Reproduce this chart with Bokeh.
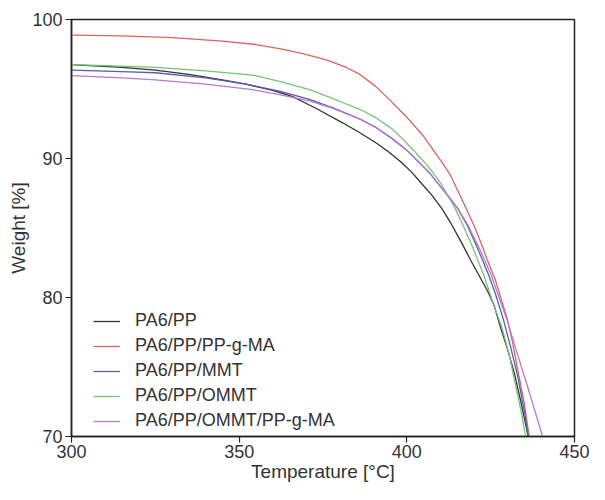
from bokeh.plotting import figure
from bokeh.models import Range1d, FixedTicker, Legend, LegendItem
from bokeh.embed import file_html
from bokeh.resources import INLINE

# Temperature [°C] / Weight [%]
t_pa6pp = [300, 315, 325, 335, 345, 352, 360, 366, 373, 381, 386, 391, 395, 398.5, 401.5, 404.4,
           407.5, 410.3, 413, 416.2, 419, 421.5, 424, 426, 428, 430, 432, 434, 436.2]
w_pa6pp = [96.76, 96.55, 96.36, 96.05, 95.65, 95.35, 94.9, 94.45, 93.6, 92.55, 91.85, 91.1, 90.4, 89.7, 89.0, 88.2,
           87.35, 86.45, 85.4, 84.0, 82.7, 81.6, 80.5, 79.46, 77.8, 76.3, 74.6, 72.5, 70.0]

t_ppgma = [300, 315, 330, 345, 355, 362, 369, 376, 382, 386, 390.7, 395, 400.5, 405, 410.3, 413, 415.2,
           417.5, 420, 422, 424, 426.5, 428, 429.9, 431.5, 433, 435, 436.5]
w_ppgma = [98.87, 98.82, 98.7, 98.45, 98.2, 97.9, 97.54, 97.1, 96.55, 96.05, 95.19, 94.2, 92.84, 91.6, 89.79, 88.8, 87.68,
           86.5, 85.2, 84.0, 82.7, 81.2, 80.0, 78.5, 76.8, 74.9, 72.4, 70.0]

t_mmt = [300, 315, 325, 340, 352, 362, 371, 378, 386, 391, 395.6, 400, 403.4, 407, 410.3, 413, 415.2,
         418, 421, 424.5, 426.5, 428.7, 431, 433, 435, 436.2]
w_mmt = [96.36, 96.25, 96.17, 95.8, 95.35, 94.85, 94.25, 93.65, 92.84, 92.2, 91.43, 90.6, 89.79, 88.9, 87.91, 87.1, 86.39,
         85.2, 83.6, 81.57, 80.2, 78.5, 76.4, 74.4, 71.9, 70.0]

t_ommt = [300, 315, 325, 340, 354, 362, 371, 378, 386, 391, 395.6, 399, 402.4, 406.5, 410.3, 414.2, 416.2,
          419.5, 423, 426, 428.4, 430.5, 432, 434, 435.4]
w_ommt = [96.76, 96.65, 96.55, 96.3, 96.0, 95.55, 94.95, 94.3, 93.54, 92.9, 92.13, 91.35, 90.49, 89.4, 88.15, 86.5, 85.5,
          83.7, 81.57, 79.4, 77.8, 75.9, 74.2, 71.9, 70.0]

t_ommt_gma = [300, 315, 325, 340, 354, 362, 371, 378, 386, 391, 395.6, 400, 403.4, 407, 410.3, 413, 415.2,
              418, 421.5, 425.2, 427.5, 430, 432.5, 436, 438, 440.5]
w_ommt_gma = [95.96, 95.8, 95.66, 95.35, 94.95, 94.6, 94.15, 93.6, 92.84, 92.2, 91.43, 90.6, 89.79, 88.9, 87.91, 87.1, 86.39,
              85.3, 83.6, 81.6, 80.0, 78.3, 76.3, 73.6, 72.0, 70.0]

labels = ["PA6/PP", "PA6/PP/PP-g-MA", "PA6/PP/MMT", "PA6/PP/OMMT", "PA6/PP/OMMT/PP-g-MA"]
colors = ["#333333", "#d9645f", "#5b5bb0", "#74c474", "#b27bd0"]
x_ticks = [300, 350, 400, 450]
y_ticks = [70, 80, 90, 100]

p = figure(width=589, height=484, output_backend="svg", toolbar_location=None,
           x_range=Range1d(300, 450), y_range=Range1d(70, 100),
           min_border_left=71, min_border_top=19, min_border_right=15, min_border_bottom=47,
           background_fill_color="white", border_fill_color="white")

p.xgrid.visible = False
p.ygrid.visible = False
p.outline_line_color = "#222222"
p.outline_line_width = 1.5

for ax in (p.xaxis[0], p.yaxis[0]):
    ax.axis_line_color = "#222222"
    ax.axis_line_width = 1.5
    ax.major_tick_line_color = "#222222"
    ax.major_tick_line_width = 1.2
    ax.major_tick_out = 6
    ax.major_tick_in = 0
    ax.minor_tick_line_color = None
    ax.major_label_text_font = "Liberation Sans"
    ax.major_label_text_font_size = "18px"
    ax.major_label_text_color = "#333333"
    ax.axis_label_text_font = "Liberation Sans"
    ax.axis_label_text_font_size = "19px"
    ax.axis_label_text_font_style = "normal"
    ax.axis_label_text_color = "#333333"

p.xaxis.ticker = FixedTicker(ticks=x_ticks)
p.yaxis.ticker = FixedTicker(ticks=y_ticks)
p.xaxis.axis_label = "Temperature [°C]"
p.yaxis.axis_label = "Weight [%]"
p.xaxis.major_label_standoff = 2
p.xaxis.axis_label_standoff = 0
p.yaxis.major_label_standoff = 3
p.yaxis.axis_label_standoff = 0

series = [(t_pa6pp, w_pa6pp), (t_ppgma, w_ppgma), (t_mmt, w_mmt), (t_ommt, w_ommt), (t_ommt_gma, w_ommt_gma)]
items = []
for (t, w), lab, c in zip(series, labels, colors):
    r = p.line(t, w, line_color=c, line_width=1.3)
    items.append(LegendItem(label=lab, renderers=[r]))

legend = Legend(items=items, location=(22, 5), padding=0, margin=0,
                border_line_color=None, background_fill_alpha=0,
                glyph_width=27, glyph_height=20, label_height=20, spacing=4,
                label_standoff=15, label_text_font="Liberation Sans",
                label_text_font_size="18px", label_text_color="#333333")
p.add_layout(legend)

open("out.html", "w").write(file_html(p, INLINE))
